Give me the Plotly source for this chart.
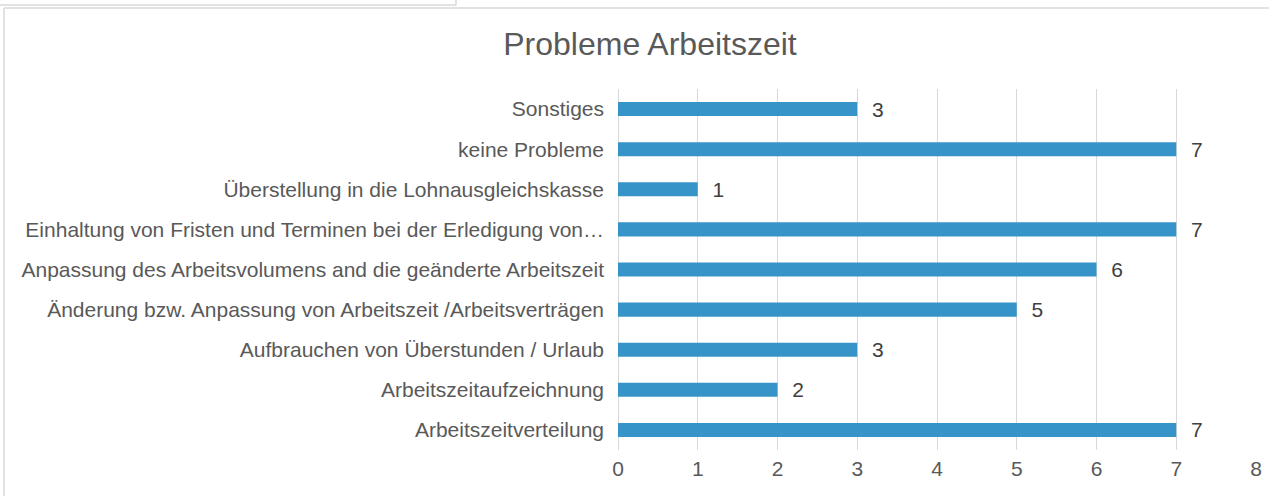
import plotly.graph_objects as go

categories = [
    "Arbeitszeitverteilung",
    "Arbeitszeitaufzeichnung",
    "Aufbrauchen von Überstunden / Urlaub",
    "Änderung bzw. Anpassung von Arbeitszeit /Arbeitsverträgen",
    "Anpassung des Arbeitsvolumens and die geänderte Arbeitszeit",
    "Einhaltung von Fristen und Terminen bei der Erledigung von…",
    "Überstellung in die Lohnausgleichskasse",
    "keine Probleme",
    "Sonstiges",
]
values = [7, 2, 3, 5, 6, 7, 1, 7, 3]
x_ticks = [0, 1, 2, 3, 4, 5, 6, 7, 8]

W, H = 1269, 496
L, R, T, B = 618, 13, 89, 46
PW, PH = W - L - R, H - T - B
FONT = "Liberation Sans, Arial"

fig = go.Figure(go.Bar(
    y=categories, x=values, orientation="h",
    marker=dict(color="#3694C8", line=dict(width=0)),
    text=["  " + str(v) for v in values], textposition="outside",
    constraintext="none",
    textfont=dict(family=FONT, size=21, color="#404040"),
    cliponaxis=False,
))

fig.update_layout(
    width=W, height=H, autosize=False,
    margin=dict(l=L, r=R, t=T, b=B, autoexpand=False),
    paper_bgcolor="white", plot_bgcolor="white",
    bargap=0.65,
    showlegend=False,
    title=dict(text="Probleme Arbeitszeit", x=650 / W, xref="container", xanchor="center",
               y=1 - 44 / H, yref="container", yanchor="middle",
               font=dict(family=FONT, size=32, color="#595959")),
    font=dict(family=FONT, size=21, color="#595959"),
)
fig.update_xaxes(range=[0, 8], tickvals=x_ticks, ticktext=[str(t) for t in x_ticks],
                 showgrid=True, gridcolor="#d9d9d9", gridwidth=1,
                 zeroline=True, zerolinecolor="#d9d9d9", zerolinewidth=1,
                 showline=False, ticks="", ticklabelstandoff=4, automargin=False,
                 tickfont=dict(family=FONT, size=21, color="#595959"), fixedrange=True)
fig.update_yaxes(categoryorder="array", categoryarray=categories,
                 showgrid=False, zeroline=False, showline=False, ticks="",
                 ticklabelstandoff=13, automargin=False,
                 tickfont=dict(family=FONT, size=21, color="#595959"), fixedrange=True)

def px(x):
    return (x - L) / PW

def py(y):
    return 1 - (y - T) / PH

border = "#d9d9d9"
fig.add_shape(type="line", xref="paper", yref="paper",
              x0=px(4), x1=px(W + 5), y0=py(8), y1=py(8),
              line=dict(color=border, width=1.5))
fig.add_shape(type="line", xref="paper", yref="paper",
              x0=px(4), x1=px(4), y0=py(8), y1=py(H + 5),
              line=dict(color=border, width=1.5))
fig.add_shape(type="line", xref="paper", yref="paper",
              x0=px(-5), x1=px(456), y0=py(5), y1=py(5),
              line=dict(color=border, width=1.5))
fig.add_shape(type="line", xref="paper", yref="paper",
              x0=px(456), x1=px(456), y0=py(5), y1=py(-5),
              line=dict(color=border, width=1.5))

fig.write_html("out.html", config={"displayModeBar": False},
               post_script="document.body.style.margin='0';document.body.style.overflow='hidden';")
